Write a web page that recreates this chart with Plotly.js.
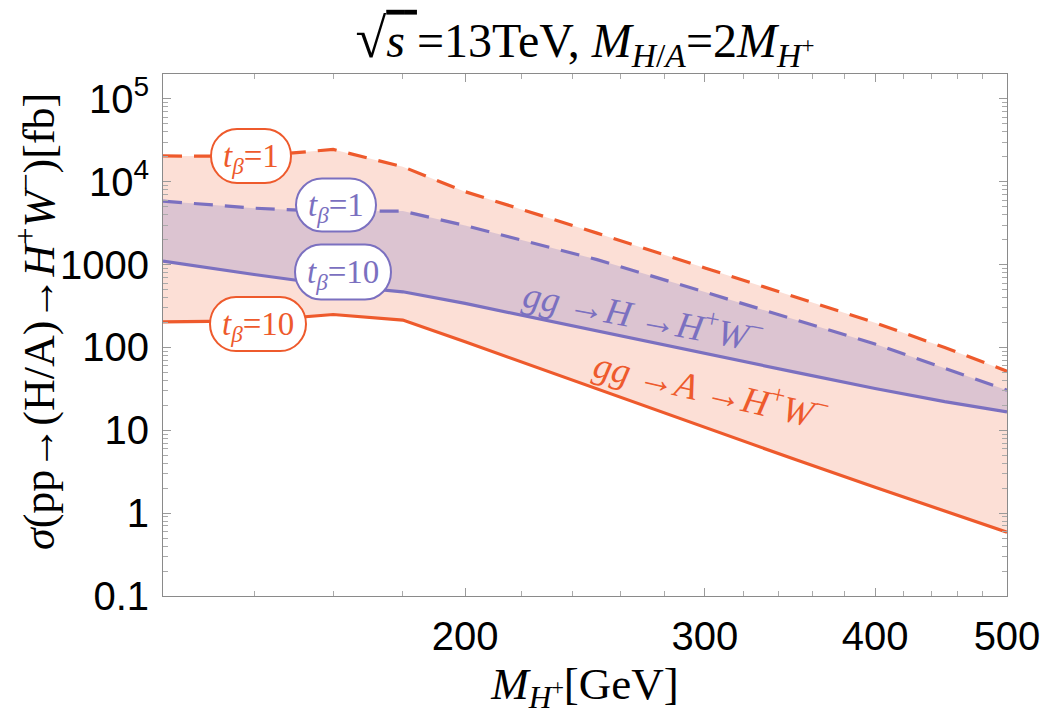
<!DOCTYPE html>
<html>
<head>
<meta charset="utf-8">
<script src="https://cdn.plot.ly/plotly-3.0.1.min.js"></script>
<style>html,body{margin:0;padding:0;background:#fff;}#chart{width:1042px;height:715px;}</style>
</head>
<body>
<div id="chart"></div>
<script>
// ---- data ----
const massHp = [120, 140, 160, 180, 200, 250, 300, 350, 400, 450, 500];          // M_H+ [GeV]
const sigmaA_tb1  = [20500, 20300, 24600, 15200, 7600, 2400, 913, 403, 199, 100, 51.8]; // gg->A->H+W-, tβ=1
const sigmaA_tb10 = [204, 210, 250, 214, 117, 31.5, 10.9, 4.4, 2.05, 1.05, 0.59];       // gg->A->H+W-, tβ=10
const sigmaH_tb1  = [5850, 4800, 4380, 4430, 2970, 1150, 466, 215, 110, 56, 30.5];      // gg->H->H+W-, tβ=1
const sigmaH_tb10 = [1104, 760, 564, 470, 340, 157, 84, 50, 32, 22.2, 16.7];            // gg->H->H+W-, tβ=10

const yTickVals = [0.1, 1, 10, 100, 1000, 1e4, 1e5];
const yTickText = ['0.1', '1', '10', '100', '1000', '10<sup>4</sup>', '10<sup>5</sup>'];
const xTickVals = [200, 300, 400, 500];
const xTickText = ['200', '300', '400', '500'];

// ---- styles ----
const ORANGE = '#EE5A2C';
const PURPLE = '#7B70C0';
const FILL_A = 'rgba(240,95,50,0.20)';
const FILL_H = 'rgba(110,100,190,0.22)';

// minor tick positions
const xMinor = [];
for (let v = 120; v <= 500; v += 20) if (xTickVals.indexOf(v) < 0) xMinor.push(v);
const yMinor = [];
for (let e = -1; e <= 5; e++) for (let m = 2; m <= 9; m++) { const v = m * Math.pow(10, e); if (v <= 2e5) yMinor.push(v); }

const traces = [
  {x: massHp, y: sigmaA_tb10, mode: 'lines', line: {color: ORANGE, width: 3.2}, hoverinfo: 'skip'},
  {x: massHp, y: sigmaA_tb1, mode: 'lines', fill: 'tonexty', fillcolor: FILL_A,
   line: {color: ORANGE, width: 3.2, dash: '19px,12px'}, hoverinfo: 'skip'},
  {x: massHp, y: sigmaH_tb10, mode: 'lines', line: {color: PURPLE, width: 3.2}, hoverinfo: 'skip'},
  {x: massHp, y: sigmaH_tb1, mode: 'lines', fill: 'tonexty', fillcolor: FILL_H,
   line: {color: PURPLE, width: 3.2, dash: '19px,12px'}, hoverinfo: 'skip'}
];

// plot area in pixels
const L = 163, R = 1007, T = 74, B = 596;
const px2x = p => (p - L) / (R - L);
const px2y = p => (B - p) / (B - T);

function pill(cx, cy, w, h, color) {
  const l = cx - w / 2, r = cx + w / 2, t = cy - h / 2, b = cy + h / 2;
  const rx = 26, ry = h / 2, k = 0.5523;
  const P = (x, y) => px2x(x).toFixed(5) + ',' + px2y(y).toFixed(5);
  const path = 'M' + P(l + rx, t) + ' L' + P(r - rx, t) +
    ' C' + P(r - rx + k * rx, t) + ' ' + P(r, t + ry - k * ry) + ' ' + P(r, t + ry) +
    ' L' + P(r, b - ry) +
    ' C' + P(r, b - ry + k * ry) + ' ' + P(r - rx + k * rx, b) + ' ' + P(r - rx, b) +
    ' L' + P(l + rx, b) +
    ' C' + P(l + rx - k * rx, b) + ' ' + P(l, b - ry + k * ry) + ' ' + P(l, b - ry) +
    ' L' + P(l, t + ry) +
    ' C' + P(l, t + ry - k * ry) + ' ' + P(l + rx - k * rx, t) + ' ' + P(l + rx, t) + ' Z';
  return {type: 'path', xref: 'paper', yref: 'paper', path: path, fillcolor: '#fff',
          line: {color: color, width: 2}, layer: 'above'};
}

const TB = '<i>t</i><sub><i>β</i></sub>';
const labels = [
  {cx: 251, cy: 156, w: 80, h: 54, color: ORANGE, text: TB + '=1'},
  {cx: 336, cy: 205, w: 80, h: 53, color: PURPLE, text: TB + '=1'},
  {cx: 343, cy: 272, w: 96, h: 55, color: PURPLE, text: TB + '=10'},
  {cx: 258, cy: 324, w: 96, h: 54, color: ORANGE, text: TB + '=10'}
];

const shapes = labels.map(o => pill(o.cx, o.cy, o.w, o.h, o.color));
const annotations = labels.map(o => ({
  xref: 'paper', yref: 'paper', x: px2x(o.cx), y: px2y(o.cy + 2), xanchor: 'center', yanchor: 'middle',
  text: o.text, showarrow: false, font: {family: 'Liberation Serif, serif', size: 33, color: o.color}
}));
annotations.push({
  xref: 'paper', yref: 'paper', x: px2x(643), y: px2y(314), xanchor: 'center', yanchor: 'middle',
  text: '<i>gg</i> →<i>H</i> →<i>H</i><sup>+</sup><i>W</i><sup>−</sup>', textangle: 11, showarrow: false,
  font: {family: 'Liberation Serif, serif', size: 37, color: PURPLE}
});
annotations.push({
  xref: 'paper', yref: 'paper', x: px2x(711), y: px2y(388), xanchor: 'center', yanchor: 'middle',
  text: '<i>gg</i> →<i>A</i> →<i>H</i><sup>+</sup><i>W</i><sup>−</sup>', textangle: 13, showarrow: false,
  font: {family: 'Liberation Serif, serif', size: 37, color: ORANGE}
});
// y-axis title (placed as annotation to match the reference's vertical position)
annotations.push({
  xref: 'paper', yref: 'paper', x: px2x(36), y: px2y(322), xanchor: 'center', yanchor: 'middle',
  text: '<i>σ</i>(pp→(H/A)→<i>H</i><sup>+</sup><i>W</i><sup>−</sup>)[fb]', textangle: -90, showarrow: false,
  font: {family: 'Liberation Serif, serif', size: 44, color: '#000'}
});

const axisCommon = {
  showline: true, linecolor: '#8a8a8a', linewidth: 1, mirror: 'allticks',
  ticks: 'inside', ticklen: 8, tickwidth: 1, tickcolor: '#9a9a9a',
  showgrid: false, zeroline: false,
  tickfont: {family: 'Liberation Sans Narrow, Liberation Sans, Arial, sans-serif', size: 40, color: '#000'}
};

const layout = {
  width: 1042, height: 715,
  margin: {l: L, r: 1042 - R, t: T, b: 715 - B},
  paper_bgcolor: '#fff', plot_bgcolor: '#fff',
  showlegend: false,
  title: {
    text: '<span style="font-size:56px">√</span><span style="text-decoration:overline"><i>s</i> </span>=13TeV, <i>M</i><sub><i>H</i>/<i>A</i></sub>=2<i>M</i><sub><i>H</i><sup>+</sup></sub>',
    font: {family: 'Liberation Serif, serif', size: 48, color: '#000'},
    x: 0.5, xref: 'paper', xanchor: 'center', y: 1 - 40 / 715, yref: 'container', yanchor: 'middle'
  },
  xaxis: Object.assign({}, axisCommon, {
    type: 'log', range: [Math.log10(120), Math.log10(500)],
    tickvals: xTickVals, ticktext: xTickText, ticklabelstandoff: 5,
    minor: {tickvals: xMinor, ticks: 'inside', ticklen: 5, tickcolor: '#aaa', tickwidth: 1, showgrid: false},
    title: {text: '<i>M</i><sub><i>H</i><sup>+</sup></sub>[GeV]', standoff: 14,
            font: {family: 'Liberation Serif, serif', size: 45, color: '#000'}}
  }),
  yaxis: Object.assign({}, axisCommon, {
    type: 'log', range: [-1, Math.log10(2e5)],
    tickvals: yTickVals, ticktext: yTickText, ticklabelstandoff: 5,
    minor: {tickvals: yMinor, ticks: 'inside', ticklen: 5, tickcolor: '#aaa', tickwidth: 1, showgrid: false}
  }),
  shapes: shapes,
  annotations: annotations
};

Plotly.newPlot('chart', traces, layout, {displayModeBar: false, staticPlot: true});
</script>
</body>
</html>
